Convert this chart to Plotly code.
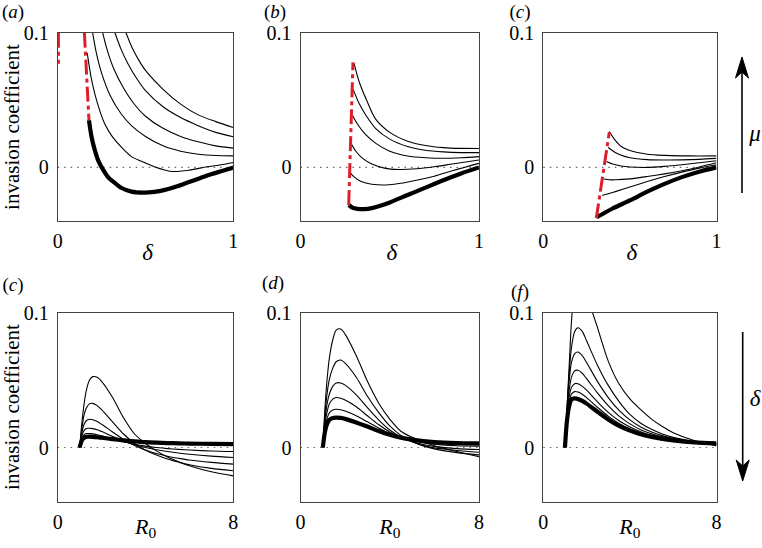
import plotly.graph_objects as go

# ---------------- panel (a) : invasion coefficient vs delta ----------------
A_red1_x = [0.004, 0.004]
A_red1_y = [0.1, 0.077]
A_red2_x = [0.152, 0.165, 0.178]
A_red2_y = [0.1, 0.068, 0.035]
A_thick_x = [0.178, 0.1935, 0.2125, 0.2315, 0.26, 0.288, 0.33, 0.364, 0.42, 0.488, 0.55, 0.611, 0.68, 0.744, 0.81, 0.877, 0.94, 1.0]
A_thick_y = [0.035, 0.0222, 0.0123, 0.0049, -0.002, -0.0074, -0.012, -0.0153, -0.018, -0.0187, -0.0182, -0.0167, -0.014, -0.011, -0.008, -0.0049, -0.0025, 0.0]
A_t1_x = [0.168, 0.19, 0.2125, 0.24, 0.269, 0.31, 0.364, 0.42, 0.478, 0.55, 0.649, 0.75, 0.85, 0.93, 1.0]
A_t1_y = [0.085, 0.067, 0.054, 0.042, 0.032, 0.023, 0.0148, 0.008, 0.0045, 0.0005, -0.003, -0.002, 0.0005, 0.002, 0.0037]
A_t2_x = [0.199, 0.22, 0.25, 0.3, 0.36, 0.42, 0.5, 0.6, 0.7, 0.8, 0.9, 1.0]
A_t2_y = [0.1, 0.085, 0.07, 0.053, 0.04, 0.031, 0.023, 0.016, 0.012, 0.0098, 0.0088, 0.0086]
A_t3_x = [0.256, 0.28, 0.32, 0.37, 0.43, 0.5, 0.6, 0.7, 0.8, 0.9, 1.0]
A_t3_y = [0.1, 0.088, 0.073, 0.06, 0.048, 0.038, 0.029, 0.023, 0.019, 0.016, 0.0143]
A_t4_x = [0.326, 0.36, 0.4, 0.45, 0.5, 0.6, 0.7, 0.8, 0.9, 1.0]
A_t4_y = [0.1, 0.088, 0.077, 0.066, 0.057, 0.045, 0.037, 0.031, 0.026, 0.0227]
A_t5_x = [0.389, 0.42, 0.46, 0.5, 0.6, 0.7, 0.8, 0.9, 1.0]
A_t5_y = [0.1, 0.09, 0.08, 0.072, 0.058, 0.047, 0.039, 0.034, 0.0296]

# ---------------- panel (b) ----------------
B_red_x = [0.27, 0.294]
B_red_y = [-0.028, 0.078]
B_thick_x = [0.271, 0.29, 0.32, 0.355, 0.4, 0.5, 0.6, 0.7, 0.8, 0.9, 1.0]
B_thick_y = [-0.0278, -0.0298, -0.0308, -0.031, -0.0302, -0.026, -0.0205, -0.015, -0.0095, -0.0045, 0.0]
B_t1_x = [0.28, 0.3, 0.34, 0.4, 0.48, 0.56, 0.65, 0.75, 0.85, 1.0]
B_t1_y = [-0.0042, -0.007, -0.0105, -0.0125, -0.013, -0.0118, -0.0095, -0.0065, -0.0025, 0.003]
B_t2_x = [0.286, 0.31, 0.35, 0.4, 0.47, 0.55, 0.65, 0.75, 0.85, 1.0]
B_t2_y = [0.0172, 0.012, 0.0065, 0.0025, -0.0005, -0.0015, -0.001, 0.0005, 0.0025, 0.0055]
B_t3_x = [0.29, 0.32, 0.36, 0.42, 0.5, 0.6, 0.7, 0.8, 0.9, 1.0]
B_t3_y = [0.0389, 0.032, 0.025, 0.018, 0.012, 0.0085, 0.0072, 0.0068, 0.0072, 0.008]
B_t4_x = [0.295, 0.33, 0.37, 0.42, 0.5, 0.6, 0.7, 0.8, 0.9, 1.0]
B_t4_y = [0.0579, 0.047, 0.038, 0.029, 0.021, 0.0155, 0.0127, 0.0115, 0.011, 0.011]
B_t5_x = [0.299, 0.33, 0.37, 0.42, 0.5, 0.6, 0.7, 0.8, 0.9, 1.0]
B_t5_y = [0.0776, 0.063, 0.05, 0.036, 0.026, 0.0195, 0.0163, 0.0147, 0.0141, 0.014]

# ---------------- panel (c), top ----------------
C_red_x = [0.306, 0.381]
C_red_y = [-0.0378, 0.0262]
C_thick_x = [0.308, 0.35, 0.4, 0.5, 0.6, 0.7, 0.8, 0.9, 1.0]
C_thick_y = [-0.037, -0.034, -0.0305, -0.0245, -0.018, -0.0122, -0.0072, -0.0032, 0.0]
C_t1_x = [0.34, 0.37, 0.42, 0.5, 0.6, 0.7, 0.8, 0.9, 1.0]
C_t1_y = [-0.0209, -0.0198, -0.0178, -0.0145, -0.0105, -0.0068, -0.0035, -0.0005, 0.002]
C_t2_x = [0.35, 0.38, 0.42, 0.5, 0.6, 0.7, 0.8, 0.9, 1.0]
C_t2_y = [-0.0086, -0.0092, -0.0092, -0.0085, -0.0068, -0.0048, -0.0025, 0.0003, 0.0034]
C_t3_x = [0.365, 0.4, 0.45, 0.5, 0.6, 0.7, 0.8, 0.9, 1.0]
C_t3_y = [0.0044, 0.0025, 0.001, 0.0003, 0.0, 0.0008, 0.002, 0.0035, 0.0049]
C_t4_x = [0.375, 0.41, 0.45, 0.5, 0.6, 0.7, 0.8, 0.9, 1.0]
C_t4_y = [0.0148, 0.0115, 0.009, 0.0072, 0.0058, 0.0055, 0.0056, 0.006, 0.0067]
C_t5_x = [0.381, 0.41, 0.45, 0.5, 0.6, 0.7, 0.8, 0.9, 1.0]
C_t5_y = [0.0266, 0.021, 0.0155, 0.0125, 0.0098, 0.0089, 0.0086, 0.0085, 0.0086]

# ---------------- bottom row : invasion coefficient vs R0 ----------------
R0 = [1.0, 1.1, 1.2, 1.3, 1.45, 1.6, 1.8, 2.0, 2.5, 3.0, 3.5, 4.0, 4.5, 5.0, 5.5, 6.0, 7.0, 8.0]

# panel (c), bottom
D_thick = [0, 0.0052, 0.0072, 0.0079, 0.008, 0.0079, 0.0076, 0.0072, 0.0062, 0.0053, 0.0046, 0.004, 0.0036, 0.0033, 0.0031, 0.0029, 0.0027, 0.0025]
D_t1 = [0, 0.0065, 0.0093, 0.0103, 0.0103, 0.0101, 0.0095, 0.0087, 0.0064, 0.0042, 0.0024, 0.001, 0.0, -0.0008, -0.0014, -0.0019, -0.0026, -0.003]
D_t2 = [0, 0.0085, 0.0125, 0.0141, 0.0143, 0.014, 0.0131, 0.0118, 0.0082, 0.0048, 0.002, 0.0, -0.0017, -0.003, -0.0041, -0.005, -0.0064, -0.0074]
D_t3 = [0, 0.011, 0.017, 0.0198, 0.0209, 0.0205, 0.0192, 0.0172, 0.0115, 0.006, 0.0015, -0.0018, -0.0045, -0.0065, -0.008, -0.0093, -0.011, -0.0123]
D_t4 = [0, 0.014, 0.024, 0.029, 0.0325, 0.0327, 0.031, 0.028, 0.019, 0.01, 0.003, -0.002, -0.0055, -0.0085, -0.0108, -0.0128, -0.0155, -0.0172]
D_t5 = [0, 0.018, 0.032, 0.042, 0.05, 0.0525, 0.052, 0.049, 0.037, 0.022, 0.01, 0.003, -0.0025, -0.007, -0.0105, -0.0135, -0.018, -0.021]

# panel (d)
E_thick = [0, 0.012, 0.0178, 0.0205, 0.0219, 0.0222, 0.0219, 0.0212, 0.0186, 0.0155, 0.0122, 0.0095, 0.0073, 0.0058, 0.0047, 0.004, 0.0033, 0.003]
E_t1 = [0, 0.015, 0.022, 0.0258, 0.0278, 0.0283, 0.028, 0.027, 0.0235, 0.019, 0.0145, 0.0105, 0.0075, 0.0052, 0.0036, 0.0025, 0.0013, 0.001]
E_t2 = [0, 0.018, 0.027, 0.0325, 0.0358, 0.037, 0.0365, 0.0352, 0.0302, 0.0235, 0.017, 0.0115, 0.0075, 0.0045, 0.0022, 0.0008, -0.0008, -0.0015]
E_t3 = [0, 0.021, 0.033, 0.04, 0.0455, 0.0478, 0.0478, 0.0462, 0.039, 0.0295, 0.0205, 0.013, 0.0078, 0.0042, 0.0015, -0.0003, -0.0022, -0.0035]
E_t4 = [0, 0.025, 0.041, 0.051, 0.059, 0.0635, 0.0648, 0.0625, 0.052, 0.038, 0.026, 0.016, 0.009, 0.0045, 0.0012, -0.001, -0.0038, -0.0055]
E_t5 = [0, 0.03, 0.052, 0.067, 0.08, 0.087, 0.0878, 0.084, 0.068, 0.049, 0.033, 0.021, 0.012, 0.0075, 0.004, 0.0013, -0.003, -0.0068]

# panel (f)
F_thick = [0, 0.021, 0.031, 0.0355, 0.0364, 0.036, 0.0345, 0.0325, 0.0265, 0.0208, 0.016, 0.0125, 0.0098, 0.0079, 0.0064, 0.0053, 0.0038, 0.0031]
F_t1 = [0, 0.023, 0.034, 0.0395, 0.0414, 0.0411, 0.0395, 0.037, 0.0298, 0.0232, 0.0178, 0.0138, 0.0108, 0.0086, 0.0069, 0.0056, 0.0039, 0.003]
F_t2 = [0, 0.025, 0.038, 0.0445, 0.0473, 0.0472, 0.0453, 0.0425, 0.0338, 0.026, 0.0198, 0.0152, 0.0117, 0.0092, 0.0073, 0.0059, 0.004, 0.0028]
F_t3 = [0, 0.027, 0.043, 0.052, 0.0568, 0.0572, 0.055, 0.051, 0.0405, 0.031, 0.0232, 0.0175, 0.0132, 0.0102, 0.008, 0.0063, 0.004, 0.0026]
F_t4 = [0, 0.029, 0.05, 0.063, 0.0695, 0.0707, 0.068, 0.063, 0.049, 0.037, 0.0275, 0.0205, 0.0152, 0.0115, 0.0088, 0.0068, 0.0042, 0.0023]
F_t5 = [0, 0.03, 0.056, 0.074, 0.086, 0.0887, 0.086, 0.079, 0.061, 0.046, 0.034, 0.0245, 0.018, 0.0135, 0.01, 0.0075, 0.0042, 0.0018]
F_t6 = [0, 0.031, 0.062, 0.093, 0.12, 0.132, 0.13, 0.114, 0.089, 0.064, 0.047, 0.036, 0.028, 0.021, 0.0155, 0.011, 0.005, 0.0012]

PANEL_LABELS = ["(<i>a</i>)", "(<i>b</i>)", "(<i>c</i>)", "(<i>c</i>)", "(<i>d</i>)", "(<i>f</i>)"]
Y_TICKS = [0, 0.1]
Y_TICKTEXT = ["0", "0.1"]
X_TOP_TICKS = [0, 1]
X_BOT_TICKS = [0, 8]
Y_TITLE = "invasion coefficient"

# ---------------- figure ----------------
W, H = 762, 548
SERIF = "Liberation Serif"
COLS = [(57.7, 233.3), (300.5, 479.0), (543.3, 716.5)]
ROWS = [(32.7, 221.3), (312.5, 501.5)]
RED = "#dd1f2b"

fig = go.Figure()

def add(i, x, y, kind):
    ax = "" if i == 1 else str(i)
    if kind == "thin":
        line = dict(color="black", width=1.1, shape="spline", smoothing=0.8)
    elif kind == "thick":
        line = dict(color="black", width=4.2, shape="spline", smoothing=0.8)
    else:
        line = dict(color=RED, width=3, dash="15px,4px,4px,4px")
    fig.add_trace(go.Scatter(x=x, y=y, mode="lines", line=line,
                             xaxis="x" + ax, yaxis="y" + ax,
                             hoverinfo="skip", showlegend=False))

for xx, yy in [(A_t1_x, A_t1_y), (A_t2_x, A_t2_y), (A_t3_x, A_t3_y), (A_t4_x, A_t4_y), (A_t5_x, A_t5_y)]:
    add(1, xx, yy, "thin")
add(1, A_thick_x, A_thick_y, "thick")
add(1, A_red1_x, A_red1_y, "red")
add(1, A_red2_x, A_red2_y, "red")
for xx, yy in [(B_t1_x, B_t1_y), (B_t2_x, B_t2_y), (B_t3_x, B_t3_y), (B_t4_x, B_t4_y), (B_t5_x, B_t5_y)]:
    add(2, xx, yy, "thin")
add(2, B_thick_x, B_thick_y, "thick")
add(2, B_red_x, B_red_y, "red")
for xx, yy in [(C_t1_x, C_t1_y), (C_t2_x, C_t2_y), (C_t3_x, C_t3_y), (C_t4_x, C_t4_y), (C_t5_x, C_t5_y)]:
    add(3, xx, yy, "thin")
add(3, C_thick_x, C_thick_y, "thick")
add(3, C_red_x, C_red_y, "red")
for yy in [D_t1, D_t2, D_t3, D_t4, D_t5]:
    add(4, R0, yy, "thin")
add(4, R0, D_thick, "thick")
for yy in [E_t1, E_t2, E_t3, E_t4, E_t5]:
    add(5, R0, yy, "thin")
add(5, R0, E_thick, "thick")
for yy in [F_t1, F_t2, F_t3, F_t4, F_t5, F_t6]:
    add(6, R0, yy, "thin")
add(6, R0, F_thick, "thick")

layout = dict(width=W, height=H, margin=dict(l=0, r=0, t=0, b=0),
              paper_bgcolor="white", plot_bgcolor="rgba(0,0,0,0)", showlegend=False,
              font=dict(family=SERIF, color="black"))
tickfont = dict(family=SERIF, size=20, color="black")
shapes = []
for i in range(1, 7):
    r = 0 if i <= 3 else 1
    c = (i - 1) % 3
    x0, x1 = COLS[c]
    y0, y1 = ROWS[r]
    ax = "" if i == 1 else str(i)
    top = r == 0
    layout["xaxis" + ax] = dict(domain=[x0 / W, x1 / W], anchor="y" + ax,
                                range=[0, 1] if top else [0, 8],
                                tickvals=X_TOP_TICKS if top else X_BOT_TICKS,
                                ticktext=[str(v) for v in (X_TOP_TICKS if top else X_BOT_TICKS)],
                                showline=True, mirror=True, linecolor="#444", linewidth=1,
                                showgrid=False, zeroline=False, ticks="outside", ticklen=2,
                                tickcolor="rgba(0,0,0,0)", tickfont=tickfont, fixedrange=True,
                                automargin=False)
    yax = dict(domain=[1 - y1 / H, 1 - y0 / H], anchor="x" + ax,
               range=[-0.04, 0.1], tickvals=Y_TICKS, ticktext=Y_TICKTEXT,
               showline=True, mirror=True, linecolor="#444", linewidth=1,
               showgrid=False, zeroline=False, ticks="outside", ticklen=4,
               tickcolor="rgba(0,0,0,0)", tickfont=tickfont, fixedrange=True,
               automargin=False)
    if c == 0:
        yax["title"] = dict(text=Y_TITLE, font=dict(family=SERIF, size=21, color="black"), standoff=1)
    layout["yaxis" + ax] = yax
    shapes.append(dict(type="line", xref="x" + ax + " domain", yref="y" + ax,
                       x0=0, x1=1, y0=0, y1=0, layer="below",
                       line=dict(color="#666", width=1.2, dash="1.5px,5px")))

# overlay axis in pixel units, only used to place text labels
layout["xaxis7"] = dict(domain=[0, 1], range=[0, W], visible=False, anchor="y7", fixedrange=True)
layout["yaxis7"] = dict(domain=[0, 1], range=[H, 0], visible=False, anchor="x7", fixedrange=True)

def P(px, py):
    return px / W, 1 - py / H

# arrows (mu up, delta down)
ax_up = 742.0
shapes.append(dict(type="line", xref="paper", yref="paper",
                   x0=P(ax_up, 193)[0], y0=P(ax_up, 193)[1], x1=P(ax_up, 66)[0], y1=P(ax_up, 66)[1],
                   line=dict(color="black", width=1.6)))
pts = [P(ax_up, 57), P(ax_up - 6.5, 78), P(ax_up, 72), P(ax_up + 6.5, 78)]
shapes.append(dict(type="path", xref="paper", yref="paper",
                   path="M" + " L".join(f"{a:.5f},{b:.5f}" for a, b in pts) + " Z",
                   fillcolor="black", line=dict(color="black", width=1)))
ax_dn = 742.7
shapes.append(dict(type="line", xref="paper", yref="paper",
                   x0=P(ax_dn, 332)[0], y0=P(ax_dn, 332)[1], x1=P(ax_dn, 470)[0], y1=P(ax_dn, 470)[1],
                   line=dict(color="black", width=1.6)))
pts = [P(ax_dn, 481), P(ax_dn - 6.5, 460), P(ax_dn, 466), P(ax_dn + 6.5, 460)]
shapes.append(dict(type="path", xref="paper", yref="paper",
                   path="M" + " L".join(f"{a:.5f},{b:.5f}" for a, b in pts) + " Z",
                   fillcolor="black", line=dict(color="black", width=1)))
layout["shapes"] = shapes

# text labels (pixel positions)
lab_x, lab_y, lab_t, lab_s, lab_p = [], [], [], [], []
def text(px, py, s, size, pos="middle center"):
    lab_x.append(px); lab_y.append(py); lab_t.append(s); lab_s.append(size); lab_p.append(pos)

label_pos = [(13, 13), (275, 13), (520, 13), (13, 286), (273, 284), (520, 293)]
for (px, py), s in zip(label_pos, PANEL_LABELS):
    text(px, py, s, 19)
for c in range(3):
    cx = (COLS[c][0] + COLS[c][1]) / 2
    text(cx + 2, 254, "<i>δ</i>", 23)
    text(cx, 528, "<i>R</i><sub>0</sub>", 22)
text(755, 135, "<i>μ</i>", 23)
text(755, 400, "<i>δ</i>", 23)

fig.add_trace(go.Scatter(x=lab_x, y=lab_y, text=lab_t, mode="text", textposition=lab_p,
                         textfont=dict(family=SERIF, size=lab_s, color="black"),
                         xaxis="x7", yaxis="y7", cliponaxis=False,
                         hoverinfo="skip", showlegend=False))

fig.update_layout(**layout)
fig.write_html("out.html", config={"displayModeBar": False, "staticPlot": True},
               post_script="document.body.style.margin='0px';document.body.style.overflow='hidden';")
